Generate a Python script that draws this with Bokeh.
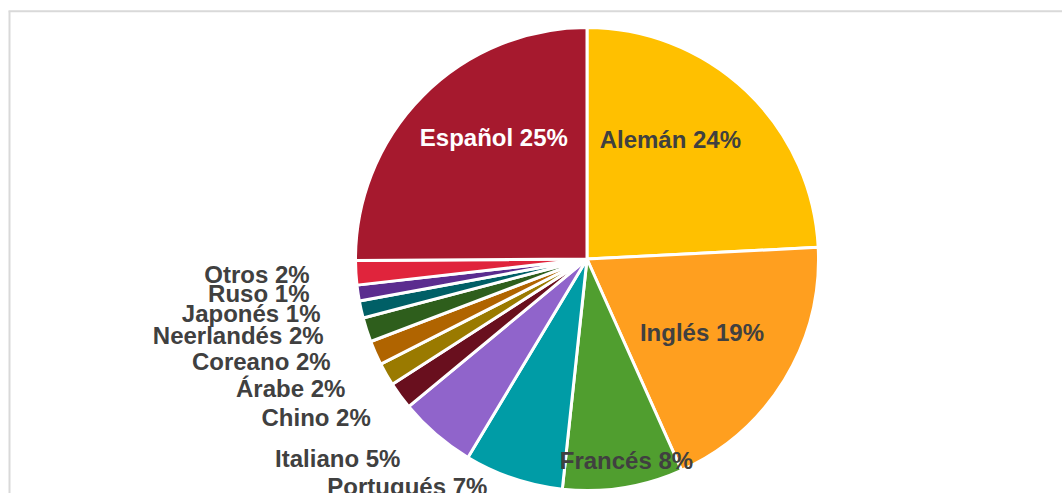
import math
from bokeh.plotting import figure
from bokeh.models import Range1d, ColumnDataSource
from bokeh.core.properties import value
from bokeh.embed import file_html
from bokeh.resources import INLINE

# ---- data (clockwise from 12 o'clock) ----
categories = ["Alemán", "Inglés", "Francés", "Portugués", "Italiano", "Chino",
              "Árabe", "Coreano", "Neerlandés", "Japonés", "Ruso", "Otros", "Español"]
shares = [24.2, 19.1, 8.4, 6.9, 5.4, 1.9, 1.6, 1.7, 1.7, 1.2, 1.1, 1.7, 25.1]
colors = ["#FFC000", "#FF9F1F", "#509E2F", "#009CA6", "#9064CB", "#690F1E",
          "#9A7A00", "#B06400", "#2E5E1C", "#005F66", "#5B2C8F", "#E0243C", "#A6192E"]

# ---- layout ----
W, H = 1062, 493
CX, CY = 586.5, 234.5
R = 231.5
label_k = [0.63, 0.59, 0.885, 1.073, 1.18, 1.157, 1.184, 1.193, 1.185, 1.175, 1.208, 1.2, 0.66]
label_da = [-8.7, 1.2, -2.1, 5.1, 2.4, 0.0, 1.7, 2.1, 1.6, 1.0, 1.4, 0.2, 7.6]
label_align = ["center", "center", "center"] + ["right"] * 9 + ["center"]
label_color = ["#404040"] * 12 + ["#FFFFFF"]

total = sum(shares)
starts, ends, lx, ly, texts = [], [], [], [], []
cum = 0.0
for i, s in enumerate(shares):
    a0 = cum / total * 360.0
    a1 = (cum + s) / total * 360.0
    cum += s
    starts.append(math.radians(90 - a1))
    ends.append(math.radians(90 - a0))
    mid = math.radians((a0 + a1) / 2 + label_da[i])
    lx.append(CX + label_k[i] * R * math.sin(mid))
    ly.append(CY + label_k[i] * R * math.cos(mid))
    texts.append(f"{categories[i]} {round(s / total * 100)}%")

p = figure(width=W, height=H, x_range=Range1d(0, W), y_range=Range1d(0, H),
           output_backend="svg", toolbar_location=None, min_border=0)
p.axis.visible = False
p.grid.visible = False
p.outline_line_color = None
p.background_fill_color = "white"
p.border_fill_color = "white"

# chart area border (top and left visible)
p.segment(x0=[8, 9], y0=[H - 10.8, 0], x1=[W, 9], y1=[H - 10.8, H - 10.8],
          line_color="#D9D9D9", line_width=2)

src = ColumnDataSource(dict(start=starts, end=ends, color=colors, cat=categories))
p.wedge(x=CX, y=CY, radius=R, radius_units="screen", start_angle="start",
        end_angle="end", direction="anticlock", fill_color="color",
        line_color="white", line_width=3, source=src)

lsrc = ColumnDataSource(dict(x=lx, y=ly, text=texts, align=label_align, color=label_color))
p.text(x="x", y="y", text="text", text_align="align", text_baseline="middle",
       text_color="color", text_font=value("Liberation Sans"), text_font_style="bold",
       text_font_size="24px", source=lsrc)

open("out.html", "w").write(file_html(p, INLINE))
